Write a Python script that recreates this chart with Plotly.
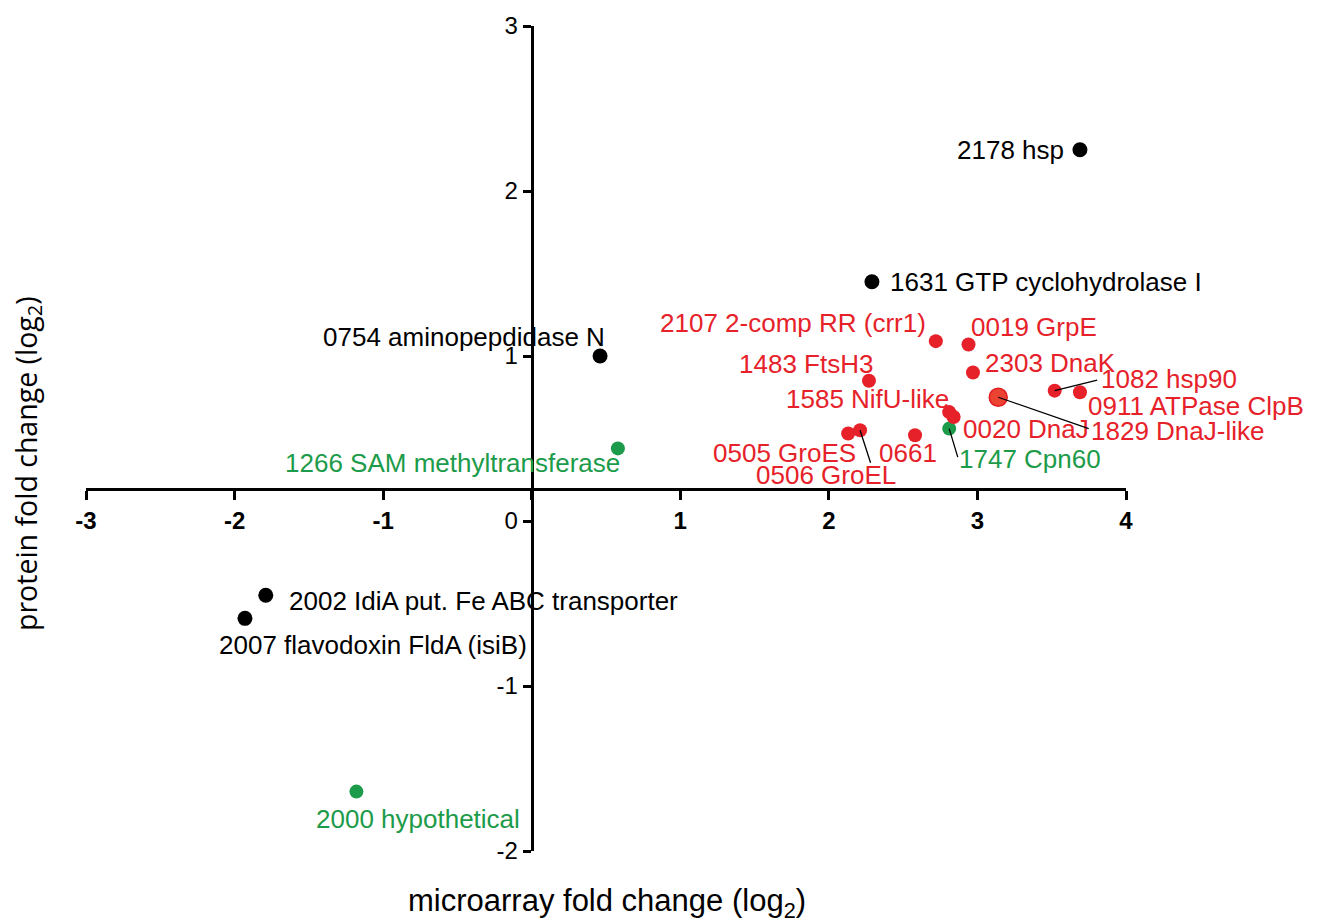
import plotly.graph_objects as go

# ---- data ----
labels = ["2178 hsp", "1631 GTP cyclohydrolase I", "0754 aminopepdidase N",
          "1266 SAM methyltransferase", "2002 IdiA put. Fe ABC transporter",
          "2007 flavodoxin FldA (isiB)", "2000 hypothetical",
          "2107 2-comp RR (crr1)", "0019 GrpE", "2303 DnaK", "1483 FtsH3",
          "1082 hsp90", "0911 ATPase ClpB", "1829 DnaJ-like", "1585 NifU-like",
          "0020 DnaJ", "1747 Cpn60", "0505 GroES", "0506 GroEL", "0661"]
microarray = [3.69, 2.29, 0.46, 0.58, -1.79, -1.93, -1.18,
              2.72, 2.94, 2.97, 2.27, 3.52, 3.69, 3.14, 2.81,
              2.84, 2.81, 2.13, 2.21, 2.58]
protein = [2.25, 1.45, 1.00, 0.44, -0.45, -0.59, -1.64,
           1.09, 1.07, 0.90, 0.85, 0.79, 0.78, 0.75, 0.66,
           0.63, 0.56, 0.53, 0.55, 0.52]
group = ["black", "black", "black", "green", "black", "black", "green",
         "red", "red", "red", "red", "red", "red", "orange", "red",
         "red", "green", "red", "red", "red"]

x_ticks = [-3, -2, -1, 0, 1, 2, 3, 4]
x_ticktext = ["-3", "-2", "-1", "", "1", "2", "3", "4"]
y_ticks = [-2, -1, 0, 1, 2, 3]
y_ticktext = ["-2", "-1", "0", "1", "2", "3"]

# ---- styling ----
COL = {"black": "#000000", "red": "#e62129", "green": "#1c9b4a", "orange": "#eb4232"}
TXTCOL = {"black": "#000000", "red": "#e62129", "green": "#1c9b4a", "orange": "#e62129"}
SIZE = {"black": 15, "red": 14, "green": 14, "orange": 18}
LFONT = "Liberation Sans, Arial, sans-serif"
# label placement: (dx px, dy px (down), anchor)
label_pos = [(-14, 0, "right"), (16, 0, "left"), (7, -19, "right"),
             (4, 15, "right"), (21, 6, "left"), (-28, 27, "left"), (-42, 27, "left"),
             (-8, -18, "right"), (0, -17, "left"), (10, -10, "left"), (6, -17, "right"),
             (44, -12, "left"), (6, 14, "left"), (91, 34, "left"), (2, -13, "right"),
             (7, 12, "left"), (8, 30, "left"), (10, 19, "right"), (38, 45, "right"), (24, 18, "right")]
# leader lines: index -> (dx, dy) tail offset in px
leaders = {11: (44, -11), 13: (92, 32), 18: (11, 34), 16: (9, 30)}

fig = go.Figure()
for g in ["black", "green", "red", "orange"]:
    idx = [i for i, gg in enumerate(group) if gg == g]
    fig.add_trace(go.Scatter(
        x=[microarray[i] for i in idx], y=[protein[i] for i in idx],
        mode="markers",
        marker=dict(color=COL[g], size=SIZE[g],
                    line=dict(color="#e31d23" if g == "orange" else COL[g],
                              width=1.5 if g == "orange" else 0)),
        cliponaxis=False, showlegend=False, hoverinfo="skip"))

annotations = []
for i, (lab, xv, yv) in enumerate(zip(labels, microarray, protein)):
    dx, dy, anc = label_pos[i]
    annotations.append(dict(x=xv, y=yv, xref="x", yref="y", text=lab, showarrow=False,
                            xanchor=anc, yanchor="middle", xshift=dx, yshift=-dy,
                            font=dict(family=LFONT, size=26, color=TXTCOL[group[i]])))
for i, (dx, dy) in leaders.items():
    annotations.append(dict(x=microarray[i], y=protein[i], xref="x", yref="y", text="",
                            showarrow=True, arrowhead=0, ax=dx, ay=dy, axref="pixel", ayref="pixel",
                            arrowwidth=1.3, arrowcolor="#000000", standoff=0, startstandoff=0))

annotations.append(dict(text="protein fold change (log<sub>2</sub>)", xref="paper", yref="paper",
                        x=-0.056, y=0.47, textangle=-90, showarrow=False,
                        xanchor="center", yanchor="middle",
                        font=dict(family="Open Sans", size=28.5, color="#000")))
annotations.append(dict(text="microarray fold change (log<sub>2</sub>)", xref="paper", yref="paper",
                        x=0.501, y=-0.063, showarrow=False, xanchor="center", yanchor="middle",
                        font=dict(family=LFONT, size=31, color="#000")))

xpos_y = (0.194 - y_ticks[0]) / (y_ticks[-1] - y_ticks[0])
ypos_x = (0 - x_ticks[0]) / (x_ticks[-1] - x_ticks[0])

fig.update_layout(
    width=1319, height=922,
    margin=dict(l=86, r=193, t=24, b=71),
    paper_bgcolor="white", plot_bgcolor="white",
    annotations=annotations,
    xaxis=dict(range=[x_ticks[0], x_ticks[-1]], anchor="free", position=xpos_y,
               showgrid=False, zeroline=False, showline=True, linecolor="#000", linewidth=3,
               ticks="outside", ticklen=9, tickwidth=3, tickcolor="#000",
               tickmode="array", tickvals=x_ticks, ticktext=x_ticktext,
               tickfont=dict(family=LFONT, size=24, color="#000", weight="bold")),
    yaxis=dict(range=[y_ticks[0], y_ticks[-1]], anchor="free", position=ypos_x,
               showgrid=False, zeroline=False, showline=True, linecolor="#000", linewidth=3,
               ticks="outside", ticklen=8, tickwidth=3, tickcolor="#000",
               tickmode="array", tickvals=y_ticks, ticktext=y_ticktext,
               tickfont=dict(family=LFONT, size=24, color="#000")),
)

fig.write_html("out.html", config={"displayModeBar": False},
               post_script="document.body.style.margin='0px';document.body.style.overflow='hidden';")
